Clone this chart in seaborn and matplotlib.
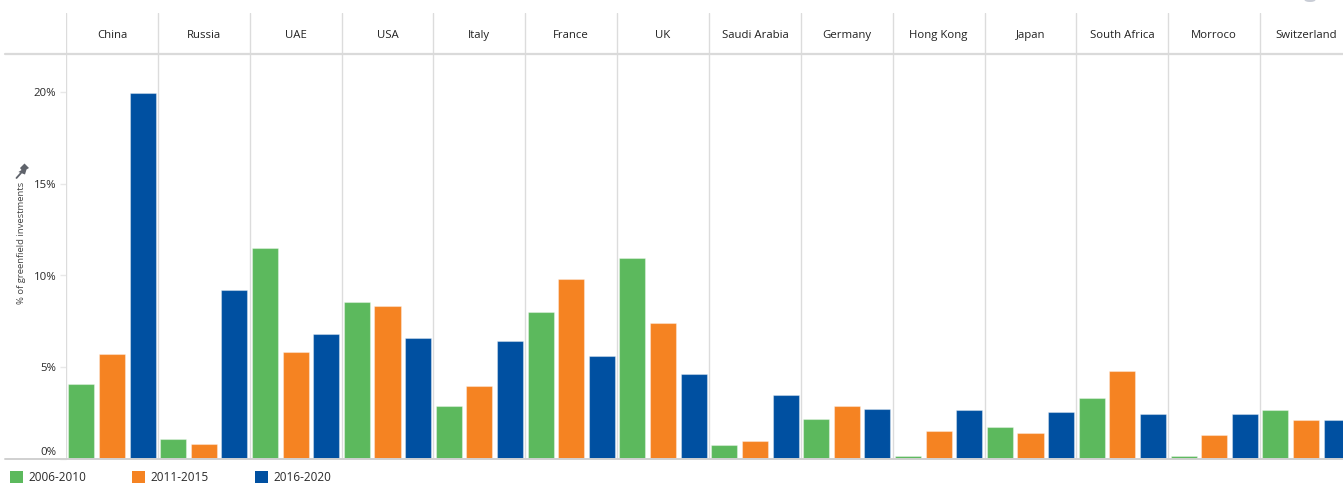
import matplotlib
matplotlib.use("Agg")
import matplotlib.pyplot as plt
from matplotlib.patches import Patch, Polygon, Circle
from matplotlib.lines import Line2D
from matplotlib.ticker import FuncFormatter
import matplotlib.transforms as mtransforms
import seaborn as sns
import pandas as pd

countries = ["China", "Russia", "UAE", "USA", "Italy", "France", "UK",
             "Saudi Arabia", "Germany", "Hong Kong", "Japan", "South Africa",
             "Morroco", "Switzerland"]
periods = ["2006-2010", "2011-2015", "2016-2020"]
share_2006_2010 = [4.1, 1.1, 11.5, 8.55, 2.9, 8.0, 10.95, 0.75, 2.2, 0.15, 1.75, 3.3, 0.15, 2.65]
share_2011_2015 = [5.7, 0.8, 5.85, 8.35, 4.0, 9.8, 7.4, 1.0, 2.9, 1.55, 1.4, 4.8, 1.3, 2.15]
share_2016_2020 = [19.95, 9.2, 6.8, 6.6, 6.45, 5.6, 4.65, 3.5, 2.7, 2.65, 2.55, 2.45, 2.45, 2.15]
y_ticks = [0, 5, 10, 15, 20]

colors = ["#5cb95d", "#f58322", "#0050a1"]

df = pd.DataFrame({
    "country": countries * 3,
    "period": [periods[0]] * len(countries) + [periods[1]] * len(countries) + [periods[2]] * len(countries),
    "share": share_2006_2010 + share_2011_2015 + share_2016_2020,
})

sns.set_theme(style="white")
plt.rcParams["font.family"] = ["Open Sans", "DejaVu Sans"]

W, H = 1343, 486
fig = plt.figure(figsize=(W / 100, H / 100), dpi=100)


def fx(px):
    return px / W


def fy(py):
    return 1 - py / H


left_px, right_px = 66, 1352
ax = fig.add_axes([fx(left_px), fy(459), (right_px - left_px) / W, (459 - 54) / H])
hax = fig.add_axes([fx(left_px), fy(54), (right_px - left_px) / W, (54 - 13) / H])

sns.barplot(data=df, x="country", y="share", hue="period", order=countries,
            hue_order=periods, palette=colors, width=1.0, gap=0.15,
            edgecolor=(1, 1, 1, 0.35), linewidth=0.8, saturation=1,
            legend=False, ax=ax, zorder=3)

n = len(countries)
for a in (ax, hax):
    a.set_xlim(-0.5, n - 0.5)
    for k in range(n + 1):
        a.axvline(k - 0.5, color="#dcdcdc", lw=1.0, zorder=1)
    for s in a.spines.values():
        s.set_visible(False)

ax.set_ylim(0, (459 - 54) / 18.35)
ax.set_xlabel("")
ax.set_ylabel("")
ax.set_xticks([])
ax.set_yticks(y_ticks)
ax.yaxis.set_major_formatter(FuncFormatter(lambda v, p: f"{v:.0f}%"))
ax.tick_params(axis="y", left=True, length=4, width=1, color="#e8e8e8",
               labelsize=8.2, labelcolor="#2a2a2a", pad=3)
# lift the zero label above the baseline
zero_lbl = ax.get_yticklabels()[0]
zero_lbl.set_transform(zero_lbl.get_transform() +
                       mtransforms.ScaledTranslation(0, 0.08, fig.dpi_scale_trans))

hax.set_ylim(0, 1)
hax.set_xticks([])
hax.set_yticks([])
for i, name in enumerate(countries):
    hax.text(i, 0.45, name, ha="center", va="center", fontsize=8.2, color="#222222")

# header separator and baseline
fig.add_artist(Line2D([fx(5), 1.0], [fy(54), fy(54)], color="#dadada", lw=1.6))
fig.add_artist(Line2D([fx(5), 1.0], [fy(459), fy(459)], color="#d0d0d0", lw=1.4))

# axis title with pin glyph
fig.text(fx(21.5), fy(243), "% of greenfield investments", rotation=90,
         ha="center", va="center", fontsize=6.8, color="#444444")
pin_head = [(20.0, 168.0), (24.5, 163.5), (29.0, 168.0), (26.5, 169.5),
            (25.0, 174.5), (18.5, 172.0), (21.5, 170.0)]
fig.add_artist(Polygon([(fx(x), fy(y)) for x, y in pin_head], closed=True,
                       facecolor="#5f636b", edgecolor="none", transform=fig.transFigure))
fig.add_artist(Line2D([fx(16.5), fx(21.0)], [fy(178.0), fy(173.0)], color="#5f636b", lw=1.3))

# small indicator dot at the top-right corner
fig.add_artist(Circle((fx(1310), fy(0)), 5.5 / W, facecolor="#c9cdd6",
                      edgecolor="none", transform=fig.transFigure))

handles = [Patch(facecolor=c, edgecolor="none") for c in colors]
fig.legend(handles, periods, loc="center left", bbox_to_anchor=(fx(10), fy(477.5)),
           ncol=3, frameon=False, fontsize=8.5, handlelength=1.1, handleheight=1.1,
           handletextpad=0.45, columnspacing=3.9, borderpad=0, borderaxespad=0,
           labelcolor="#2a2a2a")

fig.savefig("out.png", dpi=100)
